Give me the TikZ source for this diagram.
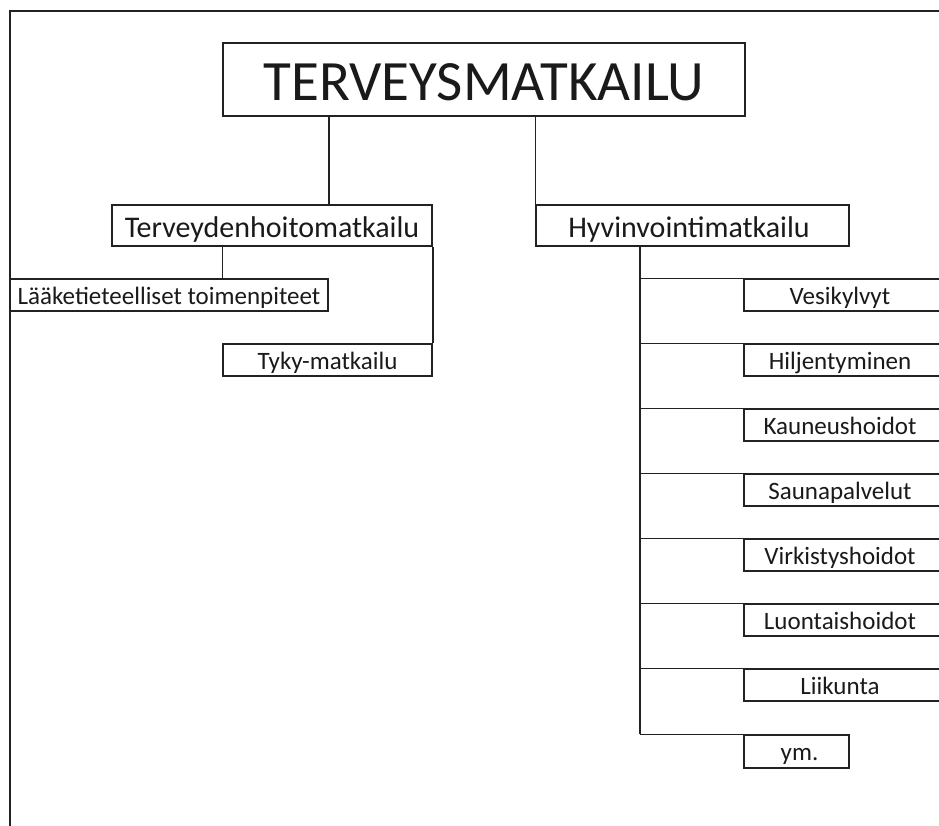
\documentclass[tikz,border=0pt]{standalone}
\usepackage{fontspec}
\setmainfont{Carlito}
\definecolor{ink}{HTML}{1A1A1A}
\definecolor{edge}{HTML}{222222}
\begin{document}
\begin{tikzpicture}[x=1pt,y=-1pt,
  box/.style={draw=edge,line width=1.5pt,inner sep=0pt,text=ink,text depth=0pt},
  big/.style={box,font=\fontsize{57}{60}\selectfont,text height=41pt},
  mid/.style={box,font=\fontsize{30}{34}\selectfont,text height=23pt},
  small/.style={box,font=\fontsize{25}{28}\selectfont,text height=18pt},
  wire/.style={draw=edge,line width=1.5pt},
  frame/.style={draw=edge,line width=2.2pt}]
\useasboundingbox (0,0) rectangle (939,825);
\clip (0,0) rectangle (939,825);
\fill[white] (0,0) rectangle (939,825);
\draw[frame] (10,840) -- (10,11) -- (950,11);

\node[big, minimum width=522pt, minimum height=73pt] (main) at (484,79.5) {TERVEYSMATKAILU};
\node[mid, minimum width=320pt, minimum height=41pt] (terv) at (272,225.5) {Terveydenhoitomatkailu};
\node[mid, minimum width=313pt, minimum height=41pt] (hyv) at (692.5,225.5) {\hspace*{-7pt}Hyvinvointimatkailu};
\node[small, minimum width=318pt, minimum height=32pt] (lk) at (169,295) {Lääketieteelliset toimenpiteet};
\node[small, minimum width=209pt, minimum height=32pt] (tyky) at (327.5,360) {Tyky-matkailu};

\coordinate (spine) at (640,246);
\foreach \nm/\txt/\yy in {vesi/Vesikylvyt/279, hilj/Hiljentyminen/344, kaun/Kauneushoidot/409,
  saun/Saunapalvelut/474, virk/Virkistyshoidot/539, luon/Luontaishoidot/604, liik/Liikunta/669} {
  \node[small, minimum width=212pt, minimum height=32pt] (\nm) at (850,\yy+16) {\txt\hspace*{20pt}};
  \draw[wire] (\nm.north west -| spine) -- (\nm.north west);
}
\node[small, minimum width=105pt, minimum height=33pt] (ym) at (796.5,751.5) {\hspace*{6pt}ym.};
\draw[wire] (ym.north west -| spine) -- (ym.north west);
\draw[wire] (hyv.south -| spine) -- (ym.north -| spine);

\draw[wire] (main.south -| lk.north east) -- (terv.north -| lk.north east);
\draw[wire] (main.south -| hyv.north west) -- (hyv.north west);
\draw[wire] (terv.south -| main.south west) -- (lk.north -| main.south west);
\draw[wire] (terv.south east) -- (tyky.north east);
\end{tikzpicture}
\end{document}
